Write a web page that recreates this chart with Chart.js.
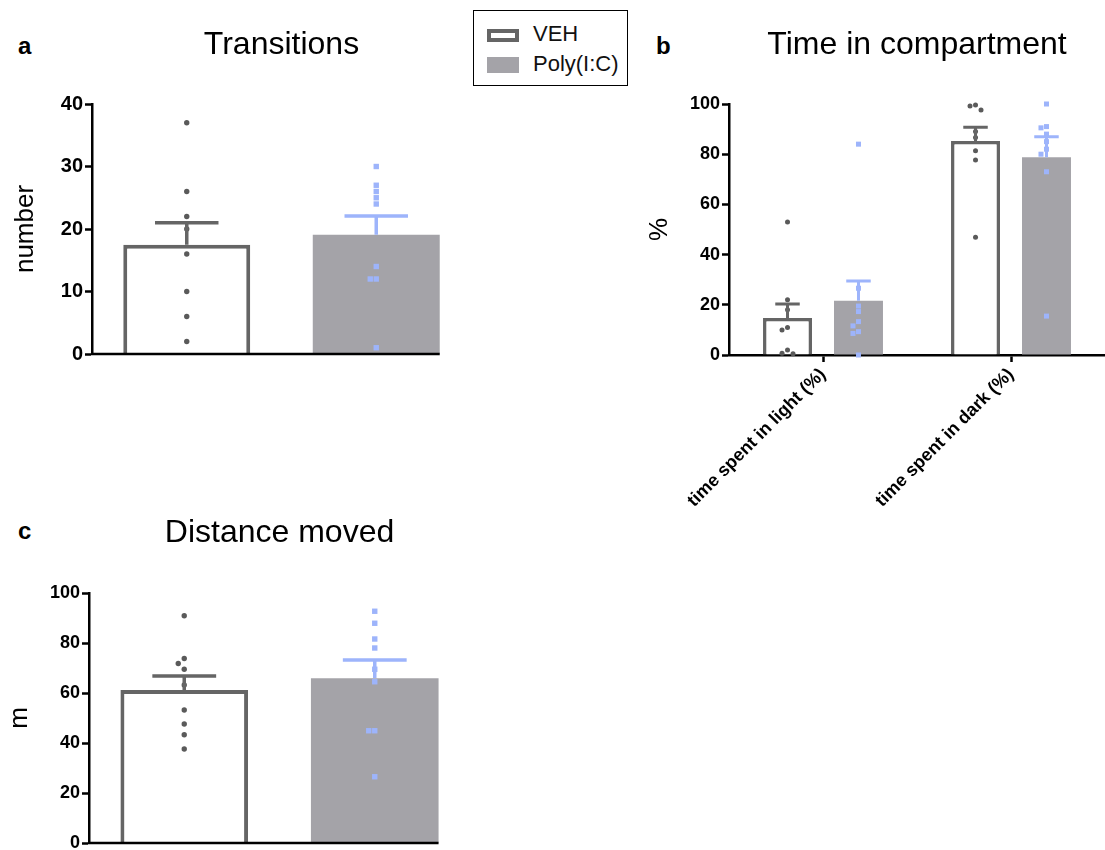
<!DOCTYPE html>
<html>
<head>
<meta charset="utf-8">
<script src="https://cdn.jsdelivr.net/npm/chart.js@4.4.1/dist/chart.umd.min.js"></script>
<style>
  body { margin: 0; width: 1105px; height: 850px; overflow: hidden; background: #fff; font-family: "Liberation Sans", Arial, sans-serif; position: relative; }
  canvas { position: absolute; }
  .letter { position: absolute; font-weight: bold; font-size: 24px; line-height: 24px; color: #000; }
  #legend { position: absolute; left: 473px; top: 10px; width: 153px; height: 74px; border: 1.5px solid #000; }
  #legend .item { position: absolute; left: 13px; font-size: 22px; line-height: 22px; color: #111; }
  #legend .sw { display: inline-block; box-sizing: border-box; width: 32px; vertical-align: middle; margin-right: 14px; }
</style>
</head>
<body>
<div class="letter" style="left:18px; top:34px;">a</div>
<div class="letter" style="left:656px; top:34px;">b</div>
<div class="letter" style="left:18px; top:519px;">c</div>
<div id="legend">
  <div class="item" style="top:12px;"><span class="sw" style="height:13px; border:4px solid #656565; background:#fff;"></span>VEH</div>
  <div class="item" style="top:42px;"><span class="sw" style="height:16px; background:#a4a3a8;"></span>Poly(I:C)</div>
</div>
<canvas id="chartA" width="480" height="368" style="left:0; top:0;"></canvas>
<canvas id="chartB" width="465" height="530" style="left:640px; top:0;"></canvas>
<canvas id="chartC" width="480" height="370" style="left:0; top:490px;"></canvas>
<script>
// groups
const groups = ['VEH', 'Poly(I:C)'];

// a - transitions
const transMean = [17.5, 19.1];
const transSem = [3.5, 3.0];
const transVeh = [37, 26, 22, 20, 16, 10, 6, 2];
const transPoly = [30, 27, 26, 25, 24, 14, 12, 12, 1];

// b - time in compartment
const compLabels = ['time spent in light (%)', 'time spent in dark (%)'];
const compVehMean = [14.7, 85.3];
const compVehSem = [5.6, 5.4];
const compPolyMean = [21.6, 78.8];
const compPolySem = [7.9, 8.2];
const lightVeh = [53, 22, 18, 11, 10, 2, 0.7, 0.5];
const lightPoly = [84, 26.6, 19.5, 17.3, 13.3, 11.6, 9.3, 8.6, 0];
const darkVeh = [99.6, 99.2, 97.6, 89, 86.7, 81.4, 77.7, 46.9];
const darkPoly = [100, 91, 90.5, 88, 85, 82, 80, 73, 15.5];

// c - distance moved
const distMean = [61.2, 65.9];
const distSem = [5.6, 7.3];
const distVeh = [90.9, 73.8, 71.8, 69.5, 63.2, 53.2, 47.6, 43.3, 37.6];
const distPoly = [92.7, 87.9, 81.6, 78, 69.5, 64.5, 44.9, 44.9, 26.5];

const FONT = '"Liberation Sans", Arial, sans-serif';
Chart.defaults.font.family = FONT;
Chart.defaults.color = '#000';

const styles = {
  veh: { line: '#656565', dot: '#5a5a5a', shape: 'circle' },
  poly: { line: '#9db4fb', dot: '#9db4fb', shape: 'square' }
};

// spread dots sideways when they would overlap
function swarm(values, cx, yScale, gap) {
  const placed = [];
  values.forEach(v => {
    const y = yScale.getPixelForValue(v);
    const tries = [0, -gap, gap, -2 * gap, 2 * gap];
    let x = cx;
    for (const dx of tries) {
      if (placed.every(p => Math.hypot(p.x - (cx + dx), p.y - y) >= gap)) { x = cx + dx; break; }
    }
    placed.push({ x, y });
  });
  return placed;
}

const extras = {
  id: 'extras',
  afterDatasetsDraw(chart, args, opts) {
    const ctx = chart.ctx;
    const ys = chart.scales.y;
    const area = chart.chartArea;
    let lastRight = area.right;
    ctx.save();
    opts.sets.forEach((set, d) => {
      const meta = chart.getDatasetMeta(d);
      meta.data.forEach((bar, i) => {
        const st = styles[set.kind[i]];
        // dots
        ctx.fillStyle = st.dot;
        swarm(set.dots[i], bar.x, ys, opts.gap).forEach(p => {
          if (st.shape === 'circle') {
            ctx.beginPath();
            ctx.arc(p.x, p.y, opts.r, 0, Math.PI * 2);
            ctx.fill();
          } else {
            ctx.fillRect(p.x - opts.r, p.y - opts.r, opts.r * 2, opts.r * 2);
          }
        });
        // error bar (upper only)
        const mean = chart.data.datasets[d].data[i];
        const top = ys.getPixelForValue(mean + set.sem[i]);
        const base = ys.getPixelForValue(mean);
        const half = bar.width * opts.cap / 2;
        ctx.strokeStyle = st.line;
        ctx.lineWidth = opts.lw;
        ctx.beginPath();
        ctx.moveTo(bar.x, base);
        ctx.lineTo(bar.x, top);
        ctx.moveTo(bar.x - half, top);
        ctx.lineTo(bar.x + half, top);
        ctx.stroke();
        lastRight = bar.x + bar.width / 2;
      });
    });
    if (opts.baseline) {
      ctx.strokeStyle = '#000';
      ctx.lineWidth = 2.5;
      ctx.beginPath();
      ctx.moveTo(area.left - 1, area.bottom);
      ctx.lineTo(lastRight, area.bottom);
      ctx.stroke();
    }
    ctx.restore();
  }
};

function yAxis(max, step, title, width, titlePad, tickSize) {
  return {
    min: 0, max: max,
    afterFit: s => { s.width = width; },
    ticks: { stepSize: step, font: { size: tickSize, weight: 'bold' }, color: '#000', padding: 2 },
    grid: { drawOnChartArea: false, drawTicks: true, tickLength: 7, tickWidth: 2.5, tickColor: '#000', color: '#000' },
    border: { display: true, color: '#000', width: 2.5 },
    title: { display: true, text: title, font: { size: 26 }, color: '#000', padding: { top: titlePad, bottom: 0 } }
  };
}

function titleOpts(text, top, bottom) {
  return { display: true, text: text, fullSize: false, color: '#000', font: { size: 32, weight: 'normal' }, padding: { top: top, bottom: bottom } };
}

// panel a
new Chart(document.getElementById('chartA'), {
  type: 'bar',
  data: {
    labels: groups,
    datasets: [{
      data: transMean,
      backgroundColor: ['#ffffff', '#a4a3a8'],
      borderColor: ['#656565', '#a4a3a8'],
      borderWidth: [4, 0],
      categoryPercentage: 1,
      barPercentage: 0.67
    }]
  },
  options: {
    responsive: false, animation: false, devicePixelRatio: 1,
    layout: { padding: { left: 0, right: 9, top: 0, bottom: 13 } },
    events: [],
    scales: {
      x: { display: false },
      y: yAxis(40, 10, 'number', 92, 10, 20)
    },
    plugins: {
      legend: { display: false },
      tooltip: { enabled: false },
      title: titleOpts('Transitions', 26.4, 39.2),
      extras: { sets: [{ kind: ['veh', 'poly'], dots: [transVeh, transPoly], sem: transSem }], gap: 6, r: 2.7, cap: 0.5, lw: 3.5, baseline: true }
    }
  },
  plugins: [extras]
});

// panel b
new Chart(document.getElementById('chartB'), {
  type: 'bar',
  data: {
    labels: compLabels,
    datasets: [
      { label: 'VEH', data: compVehMean, backgroundColor: '#ffffff', borderColor: '#656565', borderWidth: 3.5, categoryPercentage: 0.755, barPercentage: 0.69 },
      { label: 'Poly(I:C)', data: compPolyMean, backgroundColor: '#a4a3a8', borderWidth: 0, categoryPercentage: 0.755, barPercentage: 0.69 }
    ]
  },
  options: {
    responsive: false, animation: false, devicePixelRatio: 1,
    layout: { padding: { left: 0, right: 0, top: 0, bottom: 5 } },
    events: [],
    scales: {
      x: {
        afterFit: s => { s.height = 170; },
        ticks: { autoSkip: false, minRotation: 45, maxRotation: 45, font: { size: 18, weight: 'bold' }, color: '#000', padding: 2 },
        grid: { offset: false, drawOnChartArea: false, drawTicks: true, tickLength: 7, tickWidth: 2.5, tickColor: '#000', color: '#000' },
        border: { display: true, color: '#000', width: 2.5 }
      },
      y: yAxis(100, 20, '%', 89, 4, 18)
    },
    plugins: {
      legend: { display: false },
      tooltip: { enabled: false },
      title: titleOpts('Time in compartment', 26, 39.6),
      extras: {
        sets: [
          { kind: ['veh', 'veh'], dots: [lightVeh, darkVeh], sem: compVehSem },
          { kind: ['poly', 'poly'], dots: [lightPoly, darkPoly], sem: compPolySem }
        ],
        gap: 5.5, r: 2.5, cap: 0.5, lw: 3, baseline: false
      }
    }
  },
  plugins: [extras]
});

// panel c
new Chart(document.getElementById('chartC'), {
  type: 'bar',
  data: {
    labels: groups,
    datasets: [{
      data: distMean,
      backgroundColor: ['#ffffff', '#a4a3a8'],
      borderColor: ['#656565', '#a4a3a8'],
      borderWidth: [4, 0],
      categoryPercentage: 1,
      barPercentage: 0.67
    }]
  },
  options: {
    responsive: false, animation: false, devicePixelRatio: 1,
    layout: { padding: { left: 0, right: 10, top: 0, bottom: 17 } },
    events: [],
    scales: {
      x: { display: false },
      y: yAxis(100, 20, 'm', 89, 4, 18)
    },
    plugins: {
      legend: { display: false },
      tooltip: { enabled: false },
      title: titleOpts('Distance moved', 24.4, 40.2),
      extras: { sets: [{ kind: ['veh', 'poly'], dots: [distVeh, distPoly], sem: distSem }], gap: 6, r: 2.7, cap: 0.5, lw: 3.5, baseline: true }
    }
  },
  plugins: [extras]
});
</script>
</body>
</html>
